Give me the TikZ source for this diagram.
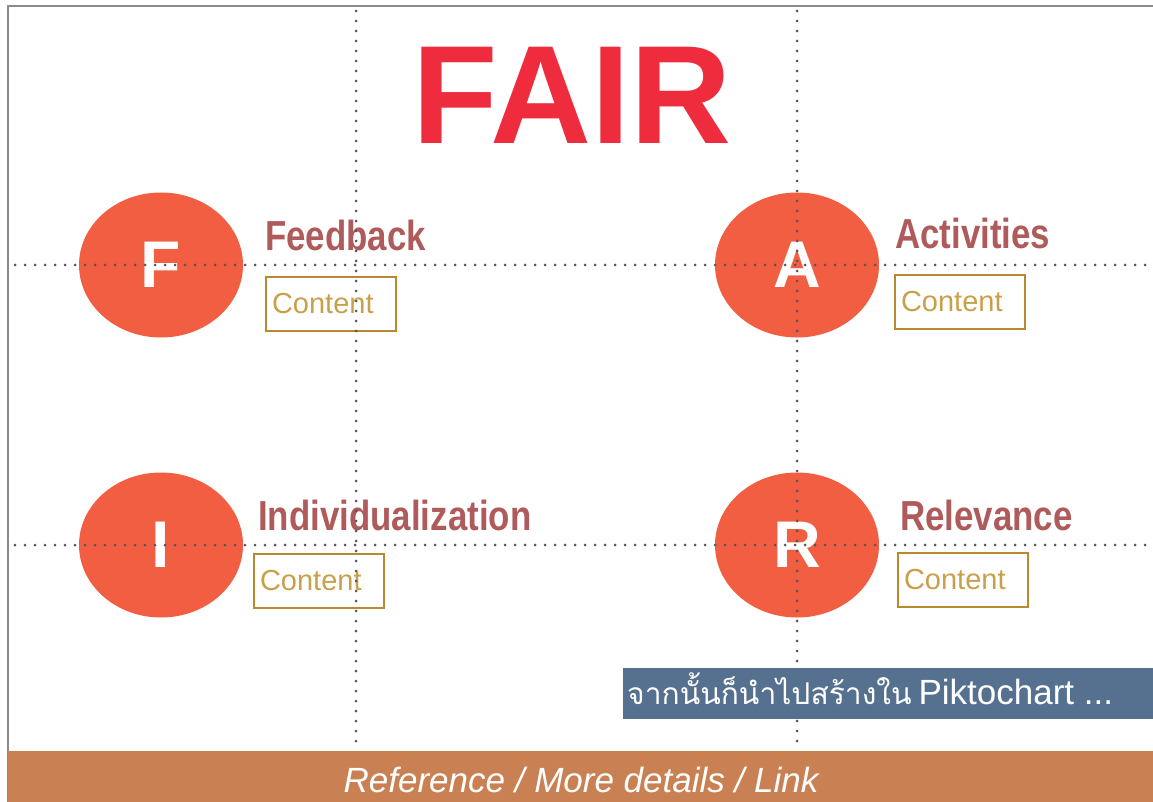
\documentclass[tikz,border=0pt]{standalone}
\usepackage{fontspec}
\setmainfont{Liberation Sans}
\newfontfamily\condfont[FakeStretch=0.83]{Liberation Sans}
\newfontfamily\thaifont[Script=Thai]{Loma}
\usetikzlibrary{shapes.geometric}

\definecolor{circred}{HTML}{F15E42}
\definecolor{fairred}{HTML}{EE2C3E}
\definecolor{headred}{HTML}{B05B5B}
\definecolor{boxgold}{HTML}{B8892E}
\definecolor{txtgold}{HTML}{C9A04A}
\definecolor{bannerblue}{HTML}{56718F}
\definecolor{barbrown}{HTML}{C98153}
\definecolor{dotgray}{HTML}{555555}
\definecolor{framegray}{HTML}{8A8A8A}

\begin{document}
\begin{tikzpicture}[x=1pt, y=-1pt,
    circ/.style = {ellipse, fill=circred, minimum width=164pt, minimum height=145pt,
                   inner sep=0pt, text=white, font=\fontsize{66}{66}\selectfont\bfseries},
    head/.style = {anchor=base west, inner sep=0pt, text=headred,
                   font=\fontsize{42}{42}\selectfont\condfont\bfseries},
    content/.style = {draw=boxgold, line width=2pt, text=txtgold, anchor=north west,
                      font=\fontsize{29}{29}\selectfont, align=left, text width=118pt,
                      inner xsep=6pt, inner ysep=0pt, minimum height=54pt},
    guide/.style = {dotgray, line width=3pt, line cap=round, dash pattern=on 0pt off 10pt}]
  \useasboundingbox (0,0) rectangle (1153,802);

  % frame
  \draw[framegray, line width=2pt] (8,802) -- (8,6.5) -- (1153,6.5);

  % title
  \node[text=fairred, font=\fontsize{140}{140}\selectfont\bfseries, inner sep=0pt] (title) at (572,95) {FAIR};

  % the four letters
  \node[circ] (F) at (161,265) {F};
  \node[circ] (A) at (797,265) {A};
  \node[circ] (I) at (161,545) {I};
  \node[circ] (R) at (797,545) {R};

  \node[head] (Fhead) at (265,251) {Feedback};
  \node[head] (Ahead) at (895,248) {Activities};
  \node[head] (Ihead) at (258,530) {Individualization};
  \node[head] (Rhead) at (900,530) {Relevance};

  \node[content] (Fbox) at (265,276) {Content};
  \node[content] (Abox) at (894,274) {Content};
  \node[content] (Ibox) at (253,553) {Content};
  \node[content] (Rbox) at (897,552) {Content};

  % dotted guides
  \draw[guide] (356,11) -- (356,745);
  \draw[guide] (797,11) -- (797,747);
  \draw[guide] (15,265) -- (1153,265);
  \draw[guide] (15,545) -- (1153,545);

  % banner
  \fill[bannerblue] (623,668) rectangle (1153,719);
  \node[anchor=base west, inner sep=0pt, text=white] (note)
    at (627,704) {\fontsize{30}{30}\selectfont\thaifont จากนั้นก็นำไปสร้างใน\hspace{7pt}%
    \fontsize{35}{35}\selectfont\rmfamily Piktochart ...};

  % footer
  \fill[barbrown] (8,751) rectangle (1153,802);
  \node[anchor=base, inner sep=0pt, text=white, font=\fontsize{35}{35}\selectfont\itshape] (links)
    at (581,792) {Reference / More details / Link};
\end{tikzpicture}
\end{document}
